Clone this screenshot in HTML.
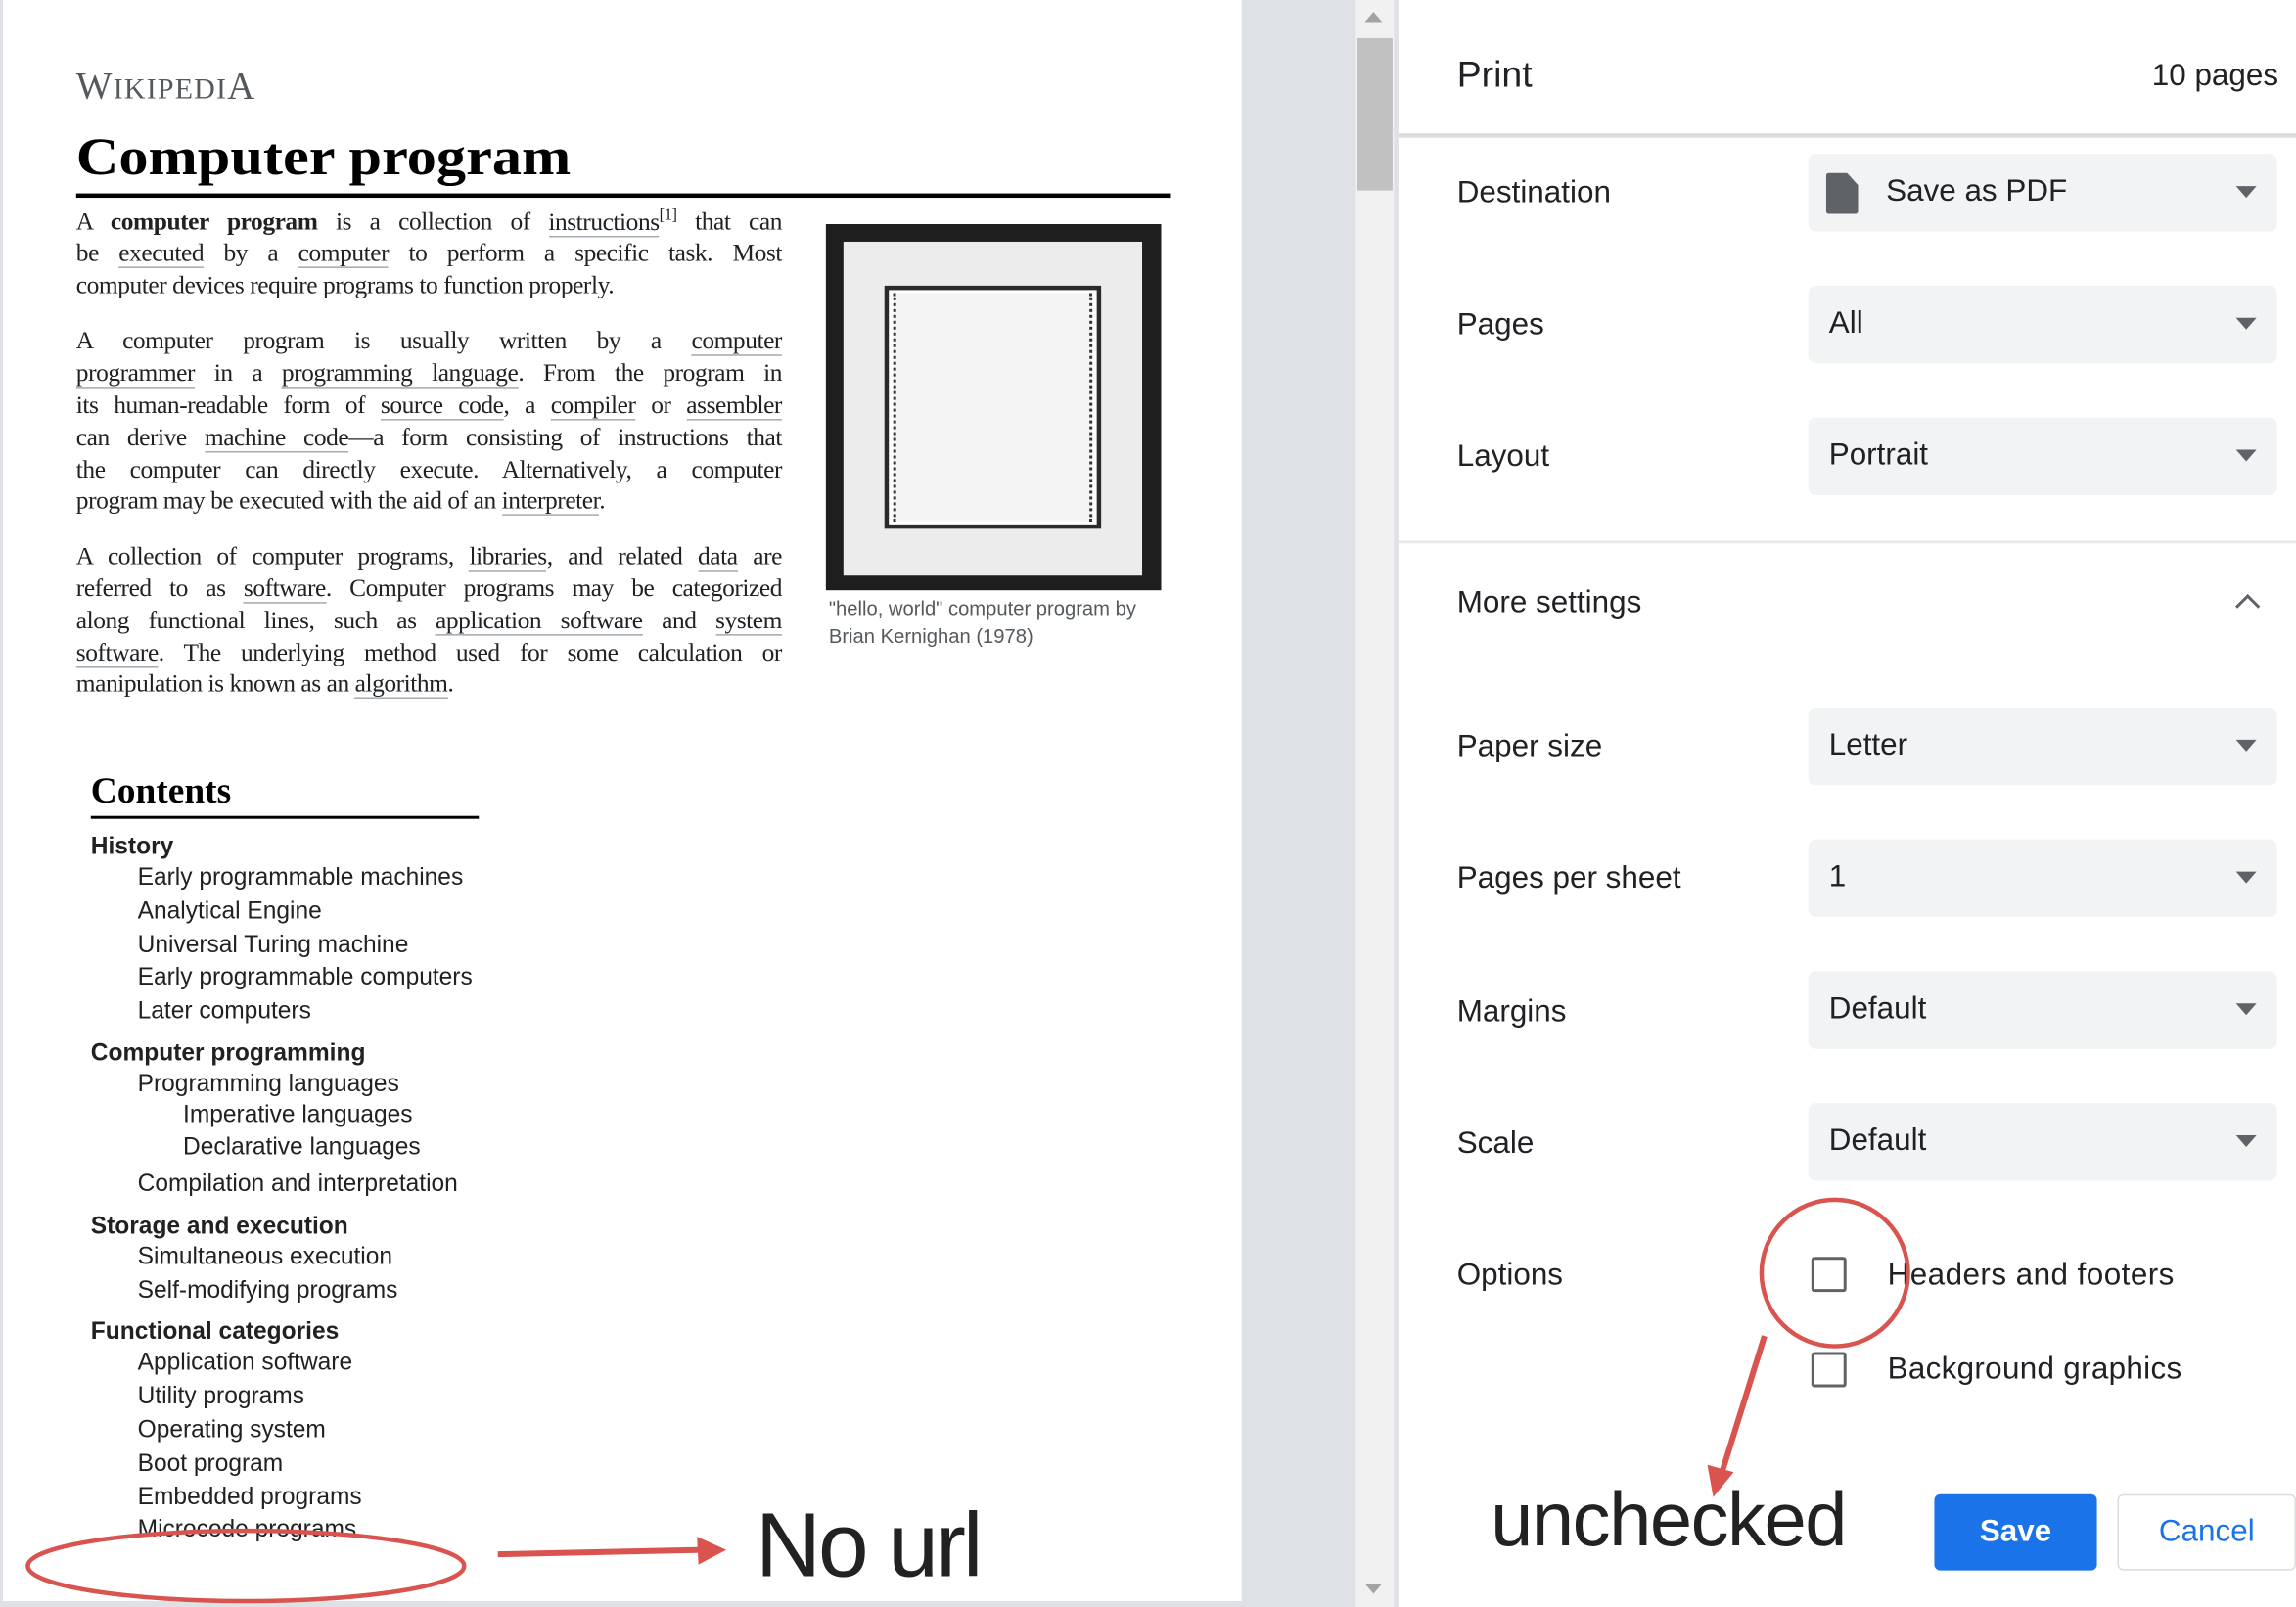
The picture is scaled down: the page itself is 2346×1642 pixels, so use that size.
<!DOCTYPE html>
<html><head><meta charset="utf-8"><style>
html,body{margin:0;padding:0;}
body{width:2346px;height:1642px;overflow:hidden;background:#fff;position:relative;}
#w{position:absolute;left:0;top:0;width:1568px;height:1097px;transform:scale(1.4962,1.4968);transform-origin:0 0;background:#dee1e6;font-family:"Liberation Sans",sans-serif;}
.a{position:absolute;white-space:nowrap;}
#page{position:absolute;left:2px;top:0;width:846px;height:1093px;background:#fff;}
.ser{font-family:"Liberation Serif",serif;color:#202122;}
.ln{position:absolute;left:50px;width:482px;font-size:17px;letter-spacing:-0.3px;text-align:justify;text-align-last:justify;white-space:nowrap;}
.ln.l{text-align-last:left;}
u{text-decoration:none;border-bottom:1px solid #a2a9b1;}
.toc{position:absolute;font-size:16.4px;color:#202122;white-space:nowrap;}
.rp{position:absolute;left:955px;top:0;width:613px;height:1097px;background:#fff;}
.lab{position:absolute;left:40px;font-size:21px;color:#202124;}
.sel{position:absolute;left:280px;width:320px;height:53px;background:#f1f3f4;border-radius:5px;}
.sel span{position:absolute;left:14px;top:14px;font-size:21px;color:#202124;}
.sel i{position:absolute;right:14px;top:22px;width:0;height:0;border-left:7px solid transparent;border-right:7px solid transparent;border-top:8px solid #5f6368;}
.cb{position:absolute;left:282px;width:20px;height:20px;border:2.5px solid #5f6368;border-radius:2px;}
</style></head><body><div id="w">
<div id="page">
<div class="a ser" style="left:50px;top:44px;font-size:26px;color:#54595d;letter-spacing:.8px">W<span style="font-size:20px">IKIPEDI</span>A</div>
<div class="a ser" style="left:50px;top:86px;font-size:36px;font-weight:bold;color:#000;transform:scaleX(1.12);transform-origin:0 0">Computer program</div>
<div class="a" style="left:50px;top:132px;width:747px;height:3px;background:#000"></div>
<div class="ser">
<div class="ln" style="top:141px">A <b>computer program</b> is a collection of <u>instructions</u><sup style="font-size:11px">[1]</sup> that can</div>
<div class="ln" style="top:163px">be <u>executed</u> by a <u>computer</u> to perform a specific task. Most</div>
<div class="ln l" style="top:185px">computer devices require programs to function properly.</div>
<div class="ln" style="top:223px">A computer program is usually written by a <u>computer</u></div>
<div class="ln" style="top:245px"><u>programmer</u> in a <u>programming language</u>. From the program in</div>
<div class="ln" style="top:267px">its human-readable form of <u>source code</u>, a <u>compiler</u> or <u>assembler</u></div>
<div class="ln" style="top:289px">can derive <u>machine code</u>—a form consisting of instructions that</div>
<div class="ln" style="top:311px">the computer can directly execute. Alternatively, a computer</div>
<div class="ln l" style="top:332px">program may be executed with the aid of an <u>interpreter</u>.</div>
<div class="ln" style="top:370px">A collection of computer programs, <u>libraries</u>, and related <u>data</u> are</div>
<div class="ln" style="top:392px">referred to as <u>software</u>. Computer programs may be categorized</div>
<div class="ln" style="top:414px">along functional lines, such as <u>application software</u> and <u>system</u></div>
<div class="ln" style="top:436px"><u>software</u>. The underlying method used for some calculation or</div>
<div class="ln l" style="top:457px">manipulation is known as an <u>algorithm</u>.</div>
</div>
<div class="a" style="left:562px;top:153px;width:229px;height:250px;background:#1e1e1e"></div>
<div class="a" style="left:574px;top:165px;width:204px;height:228px;background:#ececec"></div>
<div class="a" style="left:602px;top:195px;width:148px;height:166px;background:#fff;border:3px solid #2a2a2a;box-sizing:border-box"></div>
<div class="a" style="left:608px;top:200px;width:136px;height:156px;border-left:2px dotted #333;border-right:2px dotted #333;box-sizing:border-box;background:#f4f4f4"></div>
<div class="a" style="left:564px;top:406px;font-size:13.5px;color:#54595d;line-height:19px">"hello, world" computer program by<br>Brian Kernighan (1978)</div>
<div class="a ser" style="left:60px;top:527px;font-size:25px;font-weight:bold;color:#000">Contents</div>
<div class="a" style="left:60px;top:557px;width:265px;height:2px;background:#000"></div>
<div class="toc" style="left:60px;top:569px;font-weight:bold">History</div>
<div class="toc" style="left:92px;top:590px">Early programmable machines</div>
<div class="toc" style="left:92px;top:613px">Analytical Engine</div>
<div class="toc" style="left:92px;top:636px">Universal Turing machine</div>
<div class="toc" style="left:92px;top:658px">Early programmable computers</div>
<div class="toc" style="left:92px;top:681px">Later computers</div>
<div class="toc" style="left:60px;top:710px;font-weight:bold">Computer programming</div>
<div class="toc" style="left:92px;top:731px">Programming languages</div>
<div class="toc" style="left:123px;top:752px">Imperative languages</div>
<div class="toc" style="left:123px;top:774px">Declarative languages</div>
<div class="toc" style="left:92px;top:799px">Compilation and interpretation</div>
<div class="toc" style="left:60px;top:828px;font-weight:bold">Storage and execution</div>
<div class="toc" style="left:92px;top:849px">Simultaneous execution</div>
<div class="toc" style="left:92px;top:872px">Self-modifying programs</div>
<div class="toc" style="left:60px;top:900px;font-weight:bold">Functional categories</div>
<div class="toc" style="left:92px;top:921px">Application software</div>
<div class="toc" style="left:92px;top:944px">Utility programs</div>
<div class="toc" style="left:92px;top:967px">Operating system</div>
<div class="toc" style="left:92px;top:990px">Boot program</div>
<div class="toc" style="left:92px;top:1013px">Embedded programs</div>
<div class="toc" style="left:92px;top:1035px">Microcode programs</div>
</div>
<div class="a" style="left:926px;top:0;width:26px;height:1097px;background:#f1f1f1"></div>
<div class="a" style="left:927px;top:26px;width:24px;height:104px;background:#c1c1c1"></div>
<div class="a" style="left:932px;top:8px;border-left:6px solid transparent;border-right:6px solid transparent;border-bottom:7px solid #a3a3a3"></div>
<div class="a" style="left:932px;top:1081px;border-left:6px solid transparent;border-right:6px solid transparent;border-top:7px solid #a3a3a3"></div>
<div class="rp">
<div class="a" style="left:40px;top:37px;font-size:25px;color:#202124">Print</div>
<div class="a" style="right:12px;top:40px;font-size:21px;color:#202124">10 pages</div>
<div class="a" style="left:0;top:91px;width:613px;height:3px;background:#dcdcdc"></div>
<div class="lab" style="top:120px">Destination</div>
<div class="sel" style="top:105px"><div class="a" style="left:12px;top:13px;width:22px;height:28px;background:#5f6368;border-radius:2px;clip-path:polygon(0 0,65% 0,100% 30%,100% 100%,0 100%)"></div><span style="left:53px">Save as PDF</span><i></i></div>
<div class="lab" style="top:210px">Pages</div>
<div class="sel" style="top:195px"><span>All</span><i></i></div>
<div class="lab" style="top:300px">Layout</div>
<div class="sel" style="top:285px"><span>Portrait</span><i></i></div>
<div class="a" style="left:0;top:369px;width:613px;height:2px;background:#e8e8e8"></div>
<div class="lab" style="top:400px">More settings</div>
<div class="a" style="left:574px;top:408px;width:10px;height:10px;border-left:2.5px solid #5f6368;border-top:2.5px solid #5f6368;transform:rotate(45deg)"></div>
<div class="lab" style="top:498px">Paper size</div>
<div class="sel" style="top:483px"><span>Letter</span><i></i></div>
<div class="lab" style="top:588px">Pages per sheet</div>
<div class="sel" style="top:573px"><span>1</span><i></i></div>
<div class="lab" style="top:679px">Margins</div>
<div class="sel" style="top:663px"><span>Default</span><i></i></div>
<div class="lab" style="top:769px">Scale</div>
<div class="sel" style="top:753px"><span>Default</span><i></i></div>
<div class="lab" style="top:859px">Options</div>
<div class="cb" style="top:858px"></div>
<div class="a" style="left:334px;top:859px;font-size:21px;color:#202124;letter-spacing:.3px">Headers and footers</div>
<div class="cb" style="top:923px"></div>
<div class="a" style="left:334px;top:923px;font-size:21px;color:#202124;letter-spacing:.2px">Background graphics</div>
<div class="a" style="left:366px;top:1020px;width:111px;height:52px;background:#1a73e8;border-radius:4px;color:#fff;font-size:21px;font-weight:bold;text-align:center;line-height:52px">Save</div>
<div class="a" style="left:491px;top:1020px;width:122px;height:52px;border:1px solid #dadce0;box-sizing:border-box;border-radius:4px;color:#1a73e8;font-size:21px;text-align:center;line-height:50px">Cancel</div>
</div>
<svg class="a" style="left:0;top:0" width="1568" height="1097">
<ellipse cx="168" cy="1069" rx="149" ry="24" fill="none" stroke="#d9534f" stroke-width="3"/>
<line x1="340" y1="1061" x2="480" y2="1058" stroke="#d9534f" stroke-width="4"/>
<polygon points="496,1058 476,1049 477,1068" fill="#d9534f"/>
<circle cx="1253" cy="869" r="50" fill="none" stroke="#d9534f" stroke-width="3"/>
<line x1="1205" y1="912" x2="1176" y2="1005" stroke="#d9534f" stroke-width="4"/>
<polygon points="1170,1022 1166,1000 1184,1005" fill="#d9534f"/>
</svg>
<div class="a" style="left:516px;top:1020px;font-size:62px;color:#222;letter-spacing:-2px">No url</div>
<div class="a" style="left:1018px;top:1008px;font-size:52px;color:#222;letter-spacing:-1px">unchecked</div>
</div></body></html>
